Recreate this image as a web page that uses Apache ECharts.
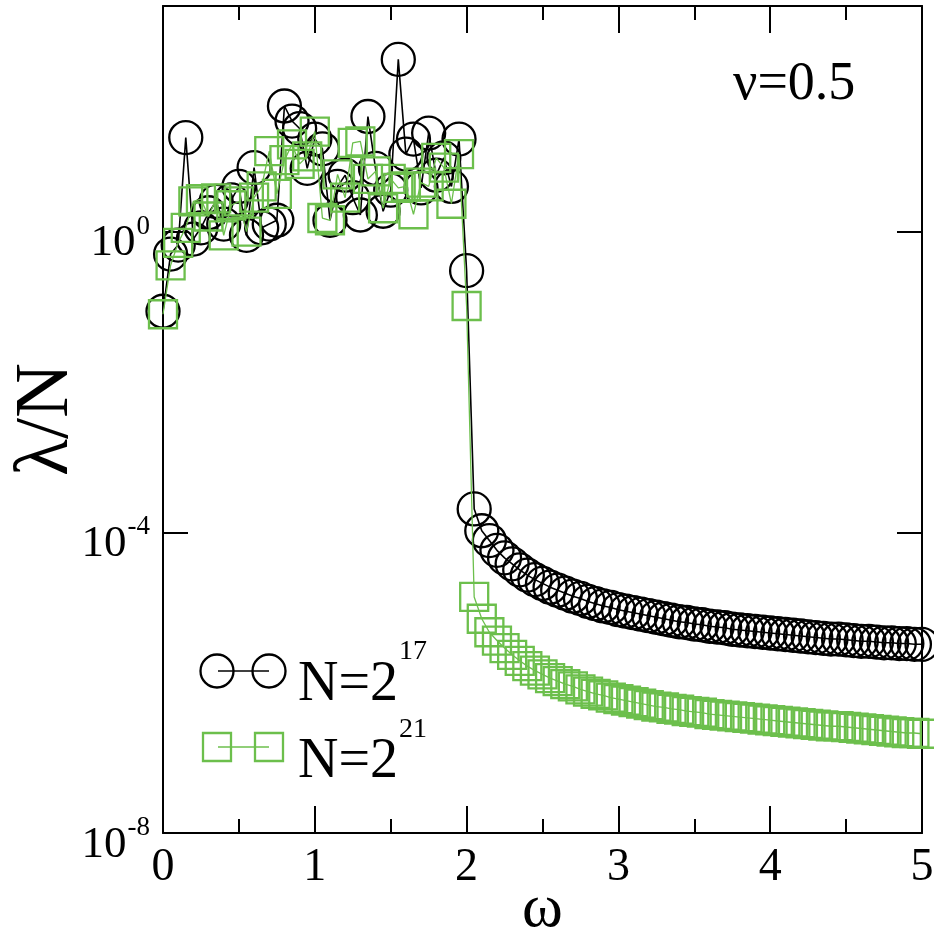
<!DOCTYPE html>
<html>
<head>
<meta charset="utf-8">
<script src="https://cdn.jsdelivr.net/npm/echarts@6/dist/echarts.min.js"></script>
<style>html,body{margin:0;padding:0;background:#fff}#c{width:934px;height:934px}</style>
</head>
<body>
<div id="c"></div>
<script>
// omega grid (x values)
const omega = [
0.00,0.05,0.10,0.15,0.20,0.25,0.30,0.35,0.40,0.45,0.50,0.55,0.60,0.65,0.70,0.75,0.80,0.85,0.90,0.95,
1.00,1.05,1.10,1.15,1.20,1.25,1.30,1.35,1.40,1.45,1.50,1.55,1.60,1.65,1.70,1.75,1.80,1.85,1.90,1.95,
2.00,2.05,2.10,2.15,2.20,2.25,2.30,2.35,2.40,2.45,2.50,2.55,2.60,2.65,2.70,2.75,2.80,2.85,2.90,2.95,
3.00,3.05,3.10,3.15,3.20,3.25,3.30,3.35,3.40,3.45,3.50,3.55,3.60,3.65,3.70,3.75,3.80,3.85,3.90,3.95,
4.00,4.05,4.10,4.15,4.20,4.25,4.30,4.35,4.40,4.45,4.50,4.55,4.60,4.65,4.70,4.75,4.80,4.85,4.90,4.95,
5.00];

// log10(lambda/N) for N = 2^17
const log10LambdaN17 = [
-1.06,-0.30,-0.18,1.25,-0.10,0.05,0.25,0.40,0.10,0.42,0.60,-0.05,0.85,0.05,0.10,0.15,1.67,1.47,1.37,0.84,
1.23,1.10,0.15,0.60,0.75,0.45,0.22,1.53,0.84,0.27,0.55,2.29,1.03,1.23,0.58,1.31,0.75,0.98,0.60,1.23,
-0.52,-3.69,-3.98,-4.11,-4.24,-4.34,-4.42,-4.50,-4.57,-4.63,-4.68,-4.73,-4.77,-4.81,-4.85,-4.88,-4.92,-4.95,-4.98,-5.00,
-5.03,-5.05,-5.07,-5.09,-5.11,-5.13,-5.15,-5.17,-5.19,-5.20,-5.22,-5.23,-5.25,-5.26,-5.27,-5.29,-5.30,-5.31,-5.32,-5.33,
-5.34,-5.35,-5.36,-5.37,-5.38,-5.39,-5.40,-5.41,-5.42,-5.42,-5.43,-5.44,-5.45,-5.45,-5.46,-5.47,-5.47,-5.48,-5.48,-5.49,
-5.49];

// log10(lambda/N) for N = 2^21
const log10LambdaN21 = [
-1.10,-0.45,-0.15,0.05,0.40,0.43,0.20,0.44,-0.05,0.35,0.40,0.00,0.45,0.60,1.07,0.50,0.95,1.16,0.90,1.00,
1.33,0.18,0.15,0.76,0.45,1.18,1.20,0.70,0.80,0.31,0.70,0.58,0.60,0.23,0.65,0.60,0.98,0.85,0.37,1.03,
-0.99,-4.86,-5.15,-5.33,-5.44,-5.54,-5.63,-5.71,-5.78,-5.84,-5.89,-5.94,-5.98,-6.02,-6.05,-6.09,-6.12,-6.15,-6.17,-6.20,
-6.22,-6.24,-6.26,-6.28,-6.30,-6.32,-6.33,-6.35,-6.36,-6.38,-6.39,-6.40,-6.42,-6.43,-6.44,-6.45,-6.46,-6.47,-6.48,-6.49,
-6.50,-6.51,-6.52,-6.53,-6.54,-6.55,-6.56,-6.57,-6.58,-6.58,-6.59,-6.60,-6.61,-6.62,-6.63,-6.64,-6.65,-6.66,-6.67,-6.67,
-6.68];

const yTickExponents = [-8, -4, 0];
const xTickLabels = ['0','1','2','3','4','5'];
const seriesNames = ['N=2^17', 'N=2^21'];
const annotation = 'ν=0.5';

const FONT = "'Liberation Serif', 'DejaVu Serif', serif";
const GREEN = '#6cbf4c';

const chart = echarts.init(document.getElementById('c'));
const pairs = (ys) => omega.map((x, i) => [x, ys[i]]);

const tickStyle = {color: '#000', width: 2};
const baseX = {
  type: 'value', min: 0, max: 5, interval: 1,
  axisLine: {show: true, onZero: false, lineStyle: tickStyle},
  axisTick: {show: true, inside: true, length: 27, lineStyle: tickStyle},
  minorTick: {show: true, splitNumber: 2, length: 14, lineStyle: tickStyle},
  splitLine: {show: false}
};
const baseY = {
  type: 'value', min: -8, max: 3, interval: 4,
  axisLine: {show: true, onZero: false, lineStyle: tickStyle},
  axisTick: {show: true, inside: true, length: 25, lineStyle: tickStyle},
  splitLine: {show: false}
};

// rich text "base^sup": base token bottom-aligned in a tall line, sup token top-aligned
const supRich = (big, small, lineH, supPadTop) => ({
  a: {fontFamily: FONT, fontSize: big, color: '#000', fill: '#000', lineHeight: lineH, verticalAlign: 'bottom'},
  b: {fontFamily: FONT, fontSize: small, color: '#000', fill: '#000', lineHeight: small, verticalAlign: 'top', padding: [supPadTop, 0, 0, 1]}
});

chart.setOption({
  animation: false,
  backgroundColor: '#fff',
  grid: {left: 163, right: 12, top: 6, bottom: 101, containLabel: false, outerBoundsMode: 'none'},
  xAxis: [
    Object.assign({}, baseX, {
      position: 'bottom',
      axisLabel: {fontFamily: FONT, fontSize: 46, color: '#000', margin: 12,
        formatter: (v) => xTickLabels[Math.round(v)] || ''},
      name: 'ω', nameLocation: 'middle', nameGap: 46, nameMoveOverlap: false,
      nameTextStyle: {fontFamily: FONT, fontSize: 62, color: '#000'}
    }),
    Object.assign({}, baseX, {position: 'top', axisLabel: {show: false}})
  ],
  yAxis: [
    Object.assign({}, baseY, {
      position: 'left',
      axisLabel: {
        margin: 13, color: '#000',
        formatter: (v) => yTickExponents.indexOf(v) >= 0 ? '{a|10}{b|' + v + '}' : '',
        rich: supRich(45, 27, 69, 16)
      },
      name: 'λ/N', nameLocation: 'middle', nameGap: 78, nameRotate: 90, nameMoveOverlap: false,
      nameTextStyle: {fontFamily: FONT, fontSize: 76, color: '#000'}
    }),
    Object.assign({}, baseY, {position: 'right', axisLabel: {show: false}})
  ],
  series: [
    {
      name: seriesNames[0], type: 'line', data: pairs(log10LambdaN17),
      symbol: 'circle', symbolSize: 33, showAllSymbol: true, clip: false,
      lineStyle: {color: '#000', width: 1.6},
      itemStyle: {color: 'rgba(0,0,0,0)', borderColor: '#000', borderWidth: 2.3},
      emphasis: {disabled: true}, z: 2
    },
    {
      name: seriesNames[1], type: 'line', data: pairs(log10LambdaN21),
      symbol: 'rect', symbolSize: 28, showAllSymbol: true, clip: false,
      lineStyle: {color: GREEN, width: 1.3},
      itemStyle: {color: 'rgba(0,0,0,0)', borderColor: GREEN, borderWidth: 2.3},
      emphasis: {disabled: true}, z: 3
    }
  ],
  graphic: [
    // legend entry 1
    {type: 'line', shape: {x1: 218, y1: 671, x2: 269, y2: 671}, style: {stroke: '#000', lineWidth: 1.6}, z: 10},
    {type: 'circle', shape: {cx: 217, cy: 671, r: 16.5}, style: {fill: 'none', stroke: '#000', lineWidth: 2.3}, z: 10},
    {type: 'circle', shape: {cx: 269, cy: 671, r: 16.5}, style: {fill: 'none', stroke: '#000', lineWidth: 2.3}, z: 10},
    {type: 'text', x: 298, y: 633, z: 10, style: {text: '{a|N=2}{b|17}', rich: supRich(56, 28, 80, 5)}},
    // legend entry 2
    {type: 'line', shape: {x1: 218, y1: 747, x2: 269, y2: 747}, style: {stroke: GREEN, lineWidth: 1.6}, z: 10},
    {type: 'rect', shape: {x: 203, y: 733, width: 28, height: 28}, style: {fill: 'none', stroke: GREEN, lineWidth: 2.3}, z: 10},
    {type: 'rect', shape: {x: 255, y: 733, width: 28, height: 28}, style: {fill: 'none', stroke: GREEN, lineWidth: 2.3}, z: 10},
    {type: 'text', x: 298, y: 710, z: 10, style: {text: '{a|N=2}{b|21}', rich: supRich(56, 28, 80, 6)}},
    // annotation
    {type: 'text', x: 733, y: 58, z: 10, style: {text: annotation, fontFamily: FONT, fontSize: 54, fill: '#000'}}
  ]
});
</script>
</body>
</html>
